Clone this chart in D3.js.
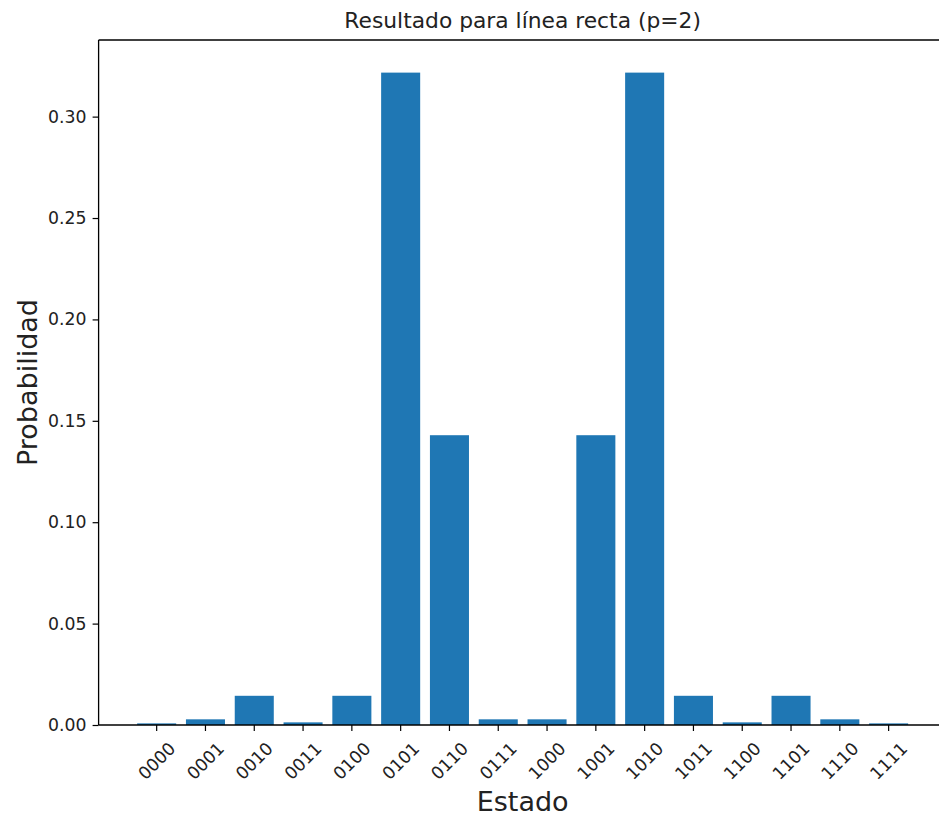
<!DOCTYPE html>
<html>
<head>
<meta charset="utf-8">
<script src="https://cdn.jsdelivr.net/npm/d3@7"></script>
<style>
  html, body { margin: 0; padding: 0; background: #fff; }
  svg { display: block; font-family: "DejaVu Sans", sans-serif; }
</style>
</head>
<body>
<svg id="chart" width="939" height="816"></svg>
<script>
// Measurement outcomes of the 4-qubit state
const estados = ["0000","0001","0010","0011","0100","0101","0110","0111",
                 "1000","1001","1010","1011","1100","1101","1110","1111"];
const probabilidades = [0.0008, 0.0028, 0.0144, 0.0013, 0.0144, 0.3217, 0.1429, 0.0028,
                        0.0028, 0.1429, 0.3217, 0.0144, 0.0013, 0.0144, 0.0028, 0.0008];
const yTicks = [0.00, 0.05, 0.10, 0.15, 0.20, 0.25, 0.30];

const titulo = "Resultado para línea recta (p=2)";
const etiquetaX = "Estado";
const etiquetaY = "Probabilidad";

const svg = d3.select("#chart");
const plotLeft = 98.6, plotRight = 946.7, plotTop = 40, plotBottom = 725;

const x = d3.scaleBand()
  .domain(estados)
  .range([plotLeft, plotRight])
  .paddingInner(0.2)
  .paddingOuter(0.79);

const yMax = d3.max(probabilidades) * 1.05;
const y = d3.scaleLinear().domain([0, yMax]).range([plotBottom, plotTop]);

// bars
svg.append("g").selectAll("rect")
  .data(estados)
  .join("rect")
  .attr("x", (d) => x(d))
  .attr("width", x.bandwidth())
  .attr("y", (d, i) => y(probabilidades[i]))
  .attr("height", (d, i) => y(0) - y(probabilidades[i]))
  .attr("fill", "#1f77b4");

// y axis
const yAxis = svg.append("g")
  .attr("transform", `translate(${plotLeft},0)`)
  .call(d3.axisLeft(y).tickValues(yTicks).tickFormat(d3.format(".2f")).tickSizeOuter(0).tickSize(6).tickPadding(6));
yAxis.select(".domain").remove();
yAxis.selectAll("line").attr("stroke", "#000").attr("stroke-width", 1.2);
yAxis.selectAll("text").attr("font-size", 17.3).attr("fill", "#222")
  .attr("font-family", "DejaVu Sans");

// x axis
const xAxis = svg.append("g")
  .attr("transform", `translate(0,${plotBottom})`)
  .call(d3.axisBottom(x).tickSizeOuter(0).tickSize(6));
xAxis.select(".domain").remove();
xAxis.selectAll("line").attr("stroke", "#000").attr("stroke-width", 1.2);
xAxis.selectAll("text")
  .attr("font-size", 17.3).attr("fill", "#222")
  .attr("font-family", "DejaVu Sans")
  .attr("text-anchor", "middle")
  .attr("dy", "0.35em")
  .attr("y", 36)
  .attr("transform", "rotate(-45, 0, 36)");

// spines
const spine = svg.append("g").attr("stroke", "#000").attr("stroke-width", 1.3).attr("fill", "none");
spine.append("line").attr("x1", plotLeft).attr("x2", plotLeft).attr("y1", plotTop).attr("y2", plotBottom);
spine.append("line").attr("x1", plotLeft).attr("x2", plotRight).attr("y1", plotBottom).attr("y2", plotBottom);
spine.append("line").attr("x1", plotLeft).attr("x2", plotRight).attr("y1", plotTop).attr("y2", plotTop);
spine.append("line").attr("x1", plotRight).attr("x2", plotRight).attr("y1", plotTop).attr("y2", plotBottom);

// title and axis labels
const cx = (plotLeft + plotRight) / 2;
svg.append("text").attr("x", cx).attr("y", 28).attr("text-anchor", "middle")
  .attr("font-size", 21.8).attr("fill", "#222").text(titulo);
svg.append("text").attr("x", cx).attr("y", 811).attr("text-anchor", "middle")
  .attr("font-size", 27).attr("fill", "#222").text(etiquetaX);
svg.append("text").attr("transform", `translate(37,${(plotTop + plotBottom) / 2}) rotate(-90)`)
  .attr("text-anchor", "middle").attr("font-size", 27).attr("fill", "#222").text(etiquetaY);
</script>
</body>
</html>
